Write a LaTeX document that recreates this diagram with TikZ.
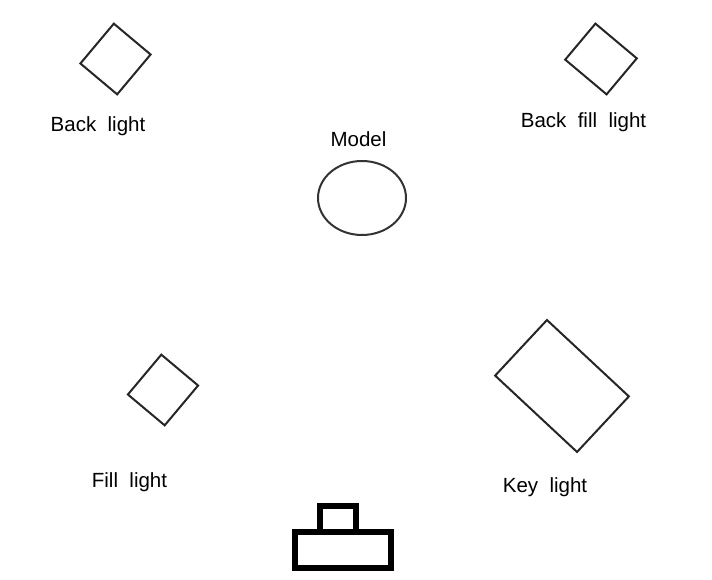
\documentclass[tikz,border=0pt]{standalone}
\usepackage{fontspec}
\setmainfont{Liberation Sans}[WordSpace=2]
\usetikzlibrary{shapes.geometric,positioning}

\begin{document}
\begin{tikzpicture}[x=1pt, y=-1pt,
    lamp/.style={rectangle, draw=black!85, line width=2pt, inner sep=0pt},
    subject/.style={ellipse, draw=black!80, line width=2pt, inner sep=0pt},
    tag/.style={anchor=base, inner sep=0pt, text=black, font=\fontsize{20.5}{24}\selectfont},
    camera/.style={draw=black, line width=5.5pt}]
    \useasboundingbox (0,0) rectangle (712,580);
			% lights
			\node [lamp, minimum width=48pt, minimum height=52pt, rotate=-40] (back) at (115.5,59) {};
			\node [lamp, minimum width=54pt, minimum height=47pt, rotate=-40] (backfill) at (601,59) {};
			\node [lamp, minimum width=48pt, minimum height=52pt, rotate=-40] (fill) at (163,390) {};
			\node [lamp, minimum width=112pt, minimum height=76pt, rotate=-43] (key) at (562,386) {};
			% model
			\node [subject, minimum width=88pt, minimum height=74pt] (model) at (362,198) {};
			% texts
			\node [tag] (backtext) at (98,132) {Back light};
			\node [tag] (backfilltext) at (583.5,128) {Back fill light};
			\node [tag] (modeltext) at (358.5,147) {Model};
			\node [tag] (filltext) at (129.5,487) {Fill light};
			\node [tag] (keytext) at (545,492) {Key light};
			% camera
			\draw [camera] (295,532) rectangle (391,568);
			\draw [camera] (320,506) rectangle (356,532);
		\end{tikzpicture}
\end{document}
